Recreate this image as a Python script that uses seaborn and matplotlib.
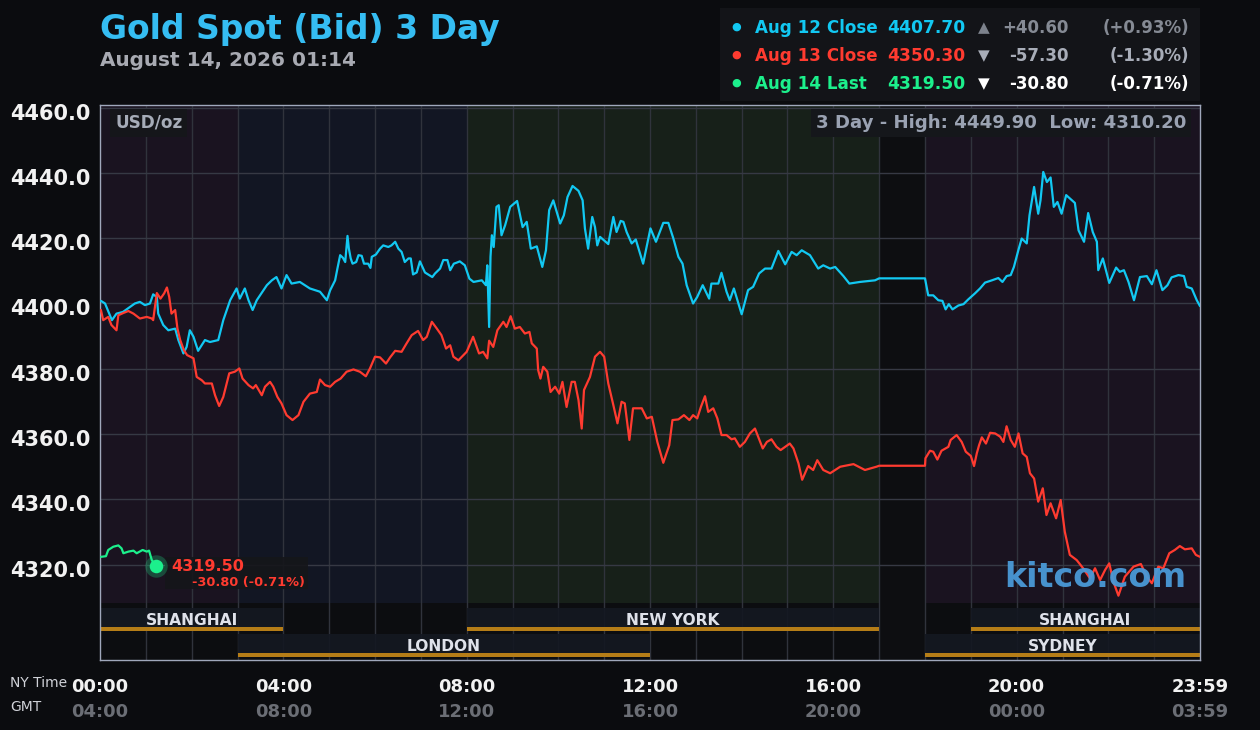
import numpy as np
import pandas as pd
import matplotlib
matplotlib.use("Agg")
import matplotlib.pyplot as plt
from matplotlib.patches import Rectangle
from matplotlib.transforms import ScaledTranslation
import seaborn as sns

# ---------------- data (hours NY time, price USD/oz) ----------------
aug12_hours = [0.02, 0.11, 0.26, 0.36, 0.50, 0.76, 0.87, 0.98, 1.09, 1.16, 1.24, 1.27, 1.38, 1.49, 1.64,
               1.71, 1.82, 1.89, 1.96, 2.04, 2.14, 2.29, 2.40, 2.58, 2.69, 2.84, 2.98, 3.05, 3.16, 3.24,
               3.33, 3.42, 3.64, 3.75, 3.85, 3.96, 4.07, 4.18, 4.36, 4.58, 4.80, 4.95, 5.02, 5.13, 5.18,
               5.24, 5.30, 5.35, 5.40, 5.43, 5.47, 5.51, 5.59, 5.64, 5.71, 5.76, 5.85, 5.90, 5.93, 6.02,
               6.11, 6.18, 6.29, 6.36, 6.44, 6.51, 6.58, 6.65, 6.73, 6.78, 6.83, 6.91, 6.98, 7.09, 7.16,
               7.25, 7.31, 7.42, 7.49, 7.58, 7.64, 7.72, 7.78, 7.85, 7.96, 8.06, 8.15, 8.33, 8.42, 8.45,
               8.49, 8.52, 8.55, 8.59, 8.65, 8.70, 8.76, 8.84, 8.95, 9.10, 9.22, 9.31, 9.40, 9.53, 9.65,
               9.73, 9.80, 9.89, 10.04, 10.12, 10.20, 10.31, 10.44, 10.53, 10.58, 10.65, 10.74, 10.80,
               10.85, 10.91, 11.09, 11.20, 11.27, 11.36, 11.42, 11.49, 11.60, 11.69, 11.85, 12.01, 12.13,
               12.29, 12.40, 12.51, 12.62, 12.71, 12.80, 12.94, 13.03, 13.15, 13.29, 13.34, 13.49, 13.56,
               13.67, 13.74, 13.83, 14.00, 14.14, 14.25, 14.38, 14.51, 14.65, 14.80, 14.95, 15.09, 15.20,
               15.31, 15.49, 15.67, 15.78, 15.93, 16.04, 16.22, 16.35, 16.58, 16.91, 17.00, 18.00, 18.07,
               18.18, 18.29, 18.38, 18.45, 18.52, 18.60, 18.73, 18.84, 18.94, 19.09, 19.20, 19.31, 19.46,
               19.60, 19.69, 19.78, 19.87, 19.94, 20.04, 20.11, 20.22, 20.28, 20.38, 20.47, 20.52, 20.58,
               20.66, 20.74, 20.81, 20.89, 20.98, 21.08, 21.16, 21.27, 21.35, 21.47, 21.56, 21.66, 21.75,
               21.78, 21.88, 22.02, 22.17, 22.25, 22.34, 22.44, 22.56, 22.69, 22.84, 22.95, 23.05, 23.18,
               23.29, 23.38, 23.53, 23.65, 23.71, 23.82, 23.93, 24.00]
aug12_price = [4400.8, 4400.0, 4394.9, 4396.9, 4397.4, 4400.0, 4400.5, 4399.5, 4400.0, 4402.8, 4402.0,
               4396.9, 4393.4, 4391.8, 4392.3, 4388.8, 4384.7, 4386.7, 4391.8, 4389.8, 4385.5, 4388.8,
               4388.2, 4388.8, 4394.9, 4401.0, 4404.6, 4401.5, 4404.6, 4401.0, 4398.0, 4401.0, 4405.6,
               4407.1, 4408.1, 4404.6, 4408.7, 4406.1, 4406.6, 4404.6, 4403.6, 4401.0, 4404.0, 4407.1,
               4410.7, 4414.8, 4414.0, 4412.7, 4420.7, 4416.8, 4413.8, 4412.2, 4412.7, 4414.8, 4414.6,
               4412.2, 4412.2, 4410.9, 4414.3, 4415.0, 4416.8, 4417.8, 4417.3, 4417.8, 4418.9, 4416.8,
               4415.8, 4412.7, 4413.8, 4413.8, 4408.9, 4409.5, 4412.9, 4409.5, 4408.9, 4408.1, 4409.2,
               4410.7, 4413.3, 4413.3, 4410.2, 4412.2, 4412.5, 4412.9, 4411.7, 4407.6, 4406.6, 4407.1,
               4405.6, 4411.7, 4392.8, 4414.3, 4420.9, 4417.3, 4429.6, 4430.1, 4420.9, 4424.0, 4429.6,
               4431.4, 4423.4, 4425.0, 4416.8, 4417.5, 4411.2, 4416.3, 4428.6, 4431.6, 4424.5, 4427.0,
               4432.6, 4436.0, 4434.5, 4431.6, 4423.0, 4416.8, 4426.5, 4423.4, 4417.8, 4420.4, 4418.2,
               4426.5, 4421.9, 4425.3, 4425.0, 4421.9, 4418.4, 4419.6, 4412.2, 4423.0, 4418.9, 4424.7,
               4424.7, 4419.9, 4414.3, 4412.2, 4405.6, 4400.0, 4402.0, 4405.6, 4401.5, 4406.1, 4406.1,
               4409.4, 4403.6, 4401.0, 4404.6, 4396.7, 4404.1, 4405.1, 4409.2, 4410.7, 4410.7, 4416.1,
               4412.0, 4415.8, 4414.8, 4416.3, 4414.8, 4410.7, 4411.7, 4410.7, 4411.2, 4408.4, 4406.1,
               4406.6, 4407.1, 4407.7, 4407.7, 4402.5, 4402.5, 4401.0, 4400.8, 4398.2, 4399.8, 4398.2,
               4399.4, 4399.8, 4401.2, 4403.1, 4404.6, 4406.4, 4407.1, 4407.8, 4406.6, 4408.4, 4408.7,
               4411.2, 4416.5, 4419.9, 4418.4, 4427.0, 4435.7, 4427.5, 4431.6, 4440.3, 4437.2, 4438.6,
               4429.6, 4431.1, 4427.5, 4433.2, 4432.2, 4430.8, 4422.4, 4418.9, 4427.7, 4421.9, 4418.9,
               4410.2, 4413.8, 4406.3, 4411.0, 4409.7, 4410.2, 4406.6, 4401.0, 4408.1, 4408.4, 4405.9,
               4410.2, 4404.1, 4405.6, 4408.0, 4408.7, 4408.4, 4405.1, 4404.6, 4401.0, 4399.2]

aug13_hours = [0.02, 0.07, 0.18, 0.25, 0.36, 0.40, 0.51, 0.62, 0.73, 0.87, 1.02, 1.13, 1.16, 1.24, 1.32,
               1.40, 1.46, 1.51, 1.56, 1.64, 1.69, 1.75, 1.83, 1.90, 2.04, 2.11, 2.22, 2.29, 2.44, 2.51,
               2.60, 2.69, 2.82, 2.94, 3.04, 3.11, 3.24, 3.34, 3.40, 3.53, 3.60, 3.71, 3.78, 3.87, 3.96,
               4.07, 4.20, 4.33, 4.44, 4.58, 4.73, 4.80, 4.91, 5.02, 5.13, 5.25, 5.38, 5.53, 5.67, 5.80,
               5.89, 6.00, 6.11, 6.24, 6.33, 6.44, 6.58, 6.69, 6.80, 6.94, 7.05, 7.13, 7.24, 7.35, 7.45,
               7.55, 7.64, 7.71, 7.82, 7.93, 8.00, 8.14, 8.27, 8.36, 8.45, 8.49, 8.58, 8.67, 8.80, 8.87,
               8.96, 9.05, 9.16, 9.27, 9.37, 9.42, 9.53, 9.56, 9.61, 9.67, 9.76, 9.83, 9.93, 10.02, 10.09,
               10.18, 10.29, 10.36, 10.44, 10.51, 10.56, 10.69, 10.80, 10.91, 11.00, 11.09, 11.20, 11.29,
               11.38, 11.45, 11.55, 11.63, 11.82, 11.93, 12.04, 12.16, 12.29, 12.42, 12.49, 12.62, 12.74,
               12.86, 12.94, 13.03, 13.11, 13.20, 13.27, 13.38, 13.47, 13.56, 13.67, 13.78, 13.85, 13.96,
               14.07, 14.18, 14.29, 14.36, 14.46, 14.55, 14.65, 14.76, 14.85, 14.95, 15.05, 15.13, 15.24,
               15.32, 15.45, 15.56, 15.65, 15.78, 15.93, 16.15, 16.44, 16.69, 16.94, 17.00, 18.00, 18.01,
               18.11, 18.18, 18.27, 18.36, 18.51, 18.56, 18.69, 18.80, 18.89, 19.00, 19.07, 19.13, 19.18,
               19.24, 19.33, 19.42, 19.53, 19.64, 19.71, 19.78, 19.87, 19.96, 20.04, 20.13, 20.22, 20.29,
               20.38, 20.47, 20.57, 20.65, 20.74, 20.86, 20.96, 21.05, 21.16, 21.31, 21.45, 21.60, 21.71,
               21.82, 21.93, 22.02, 22.11, 22.22, 22.36, 22.55, 22.71, 22.84, 22.95, 23.09, 23.20, 23.33,
               23.45, 23.56, 23.67, 23.82, 23.91, 24.00]
aug13_price = [4398.0, 4394.9, 4395.9, 4393.4, 4391.8, 4396.4, 4397.1, 4397.7, 4396.9, 4395.4, 4395.9,
               4395.4, 4394.9, 4403.2, 4401.5, 4403.1, 4404.9, 4402.0, 4396.9, 4398.0, 4392.3, 4388.8,
               4385.7, 4384.2, 4383.2, 4377.5, 4376.5, 4375.5, 4375.5, 4371.9, 4368.6, 4371.4, 4378.6,
               4379.1, 4380.1, 4377.0, 4375.0, 4374.0, 4375.0, 4371.9, 4374.5, 4376.0, 4374.5, 4371.4,
               4369.4, 4365.8, 4364.3, 4365.8, 4369.9, 4372.4, 4372.9, 4376.7, 4375.0, 4374.5, 4376.0,
               4377.0, 4379.1, 4379.8, 4379.1, 4377.7, 4380.1, 4383.7, 4383.5, 4381.6, 4383.5, 4385.5,
               4385.2, 4387.8, 4390.3, 4391.6, 4388.8, 4389.8, 4394.4, 4392.3, 4390.3, 4386.2, 4387.2,
               4383.7, 4382.6, 4384.2, 4385.2, 4389.8, 4384.7, 4385.2, 4383.2, 4388.6, 4386.7, 4391.8,
               4394.4, 4392.8, 4396.1, 4392.3, 4392.8, 4390.8, 4391.3, 4387.8, 4386.2, 4379.6, 4377.0,
               4380.6, 4379.1, 4372.9, 4374.5, 4372.4, 4376.0, 4368.3, 4376.0, 4376.0, 4370.4, 4361.7,
               4373.5, 4377.5, 4383.7, 4385.2, 4383.7, 4375.5, 4368.9, 4363.3, 4369.9, 4369.4, 4358.2,
               4367.9, 4367.9, 4364.8, 4365.3, 4357.6, 4351.2, 4356.6, 4364.3, 4364.5, 4365.8, 4364.3,
               4365.8, 4364.8, 4368.3, 4371.6, 4366.8, 4367.9, 4364.8, 4359.7, 4359.7, 4358.4, 4358.7,
               4356.1, 4357.6, 4360.2, 4361.7, 4359.2, 4355.6, 4357.6, 4358.4, 4356.1, 4355.1, 4356.1,
               4357.1, 4355.6, 4351.0, 4346.0, 4350.2, 4349.0, 4352.0, 4349.0, 4348.0, 4350.0, 4350.8,
               4349.0, 4350.0, 4350.3, 4350.3, 4352.6, 4354.9, 4354.6, 4352.2, 4354.9, 4356.1, 4358.2,
               4359.7, 4357.6, 4354.6, 4353.3, 4350.2, 4354.1, 4356.6, 4359.0, 4357.1, 4360.4, 4360.2,
               4359.2, 4357.6, 4362.4, 4358.2, 4356.1, 4360.2, 4354.1, 4353.0, 4348.0, 4346.4, 4339.3,
               4343.4, 4335.2, 4338.8, 4334.2, 4339.8, 4330.1, 4323.0, 4321.4, 4318.9, 4315.8, 4318.9,
               4315.3, 4318.4, 4320.4, 4314.8, 4310.5, 4316.3, 4319.4, 4320.2, 4316.3, 4314.3, 4319.4,
               4318.9, 4323.5, 4324.5, 4325.7, 4324.7, 4325.0, 4323.0, 4322.4]

aug14_hours = [0.02, 0.13, 0.18, 0.29, 0.40, 0.47, 0.51, 0.62, 0.73, 0.80, 0.93, 1.02, 1.07, 1.13, 1.23]
aug14_price = [4322.4, 4322.6, 4324.5, 4325.5, 4325.9, 4325.0, 4323.5, 4324.0, 4324.3, 4323.5, 4324.5,
               4324.0, 4324.3, 4321.4, 4319.5]

series_names = ["Aug 12", "Aug 13", "Aug 14"]
series_colors = ["#12c8f2", "#ff3b30", "#1cf08c"]
legend_labels = ["Aug 12 Close", "Aug 13 Close", "Aug 14 Last"]
legend_values = ["4407.70", "4350.30", "4319.50"]
legend_arrows = ["\u25B2", "\u25BC", "\u25BC"]
legend_changes = ["+40.60", "-57.30", "-30.80"]
legend_pcts = ["(+0.93%)", "(-1.30%)", "(-0.71%)"]

y_ticks = [4320, 4340, 4360, 4380, 4400, 4420, 4440, 4460]
x_tick_hours = [0, 4, 8, 12, 16, 20, 24]
ny_labels = ["00:00", "04:00", "08:00", "12:00", "16:00", "20:00", "23:59"]
gmt_labels = ["04:00", "08:00", "12:00", "16:00", "20:00", "00:00", "03:59"]

# background periods (start, end, colour)
periods = [(0, 3, "#1a1320"), (3, 8, "#121623"), (8, 17, "#172019"), (17, 18, "#0d0e11"), (18, 24, "#1a1320")]
# market sessions (name, start, end, row)
sessions = [("SHANGHAI", 0, 4, 0), ("LONDON", 3, 12, 1), ("NEW YORK", 8, 17, 0),
            ("SYDNEY", 18, 24, 1), ("SHANGHAI", 19, 24, 0)]

last_hour, last_price = 1.23, 4319.50

# ---------------- figure ----------------
sns.set_theme(style="dark")
plt.rcParams["font.family"] = ["DejaVu Sans"]
BG = "#0b0c0f"
fig = plt.figure(figsize=(12.6, 7.3), dpi=100, facecolor=BG)

def fpos(x, y):
    return x / 1260, 1 - y / 730

ax = fig.add_axes([100 / 1260, 70 / 730, 1100 / 1260, 555 / 730])
ax.set_facecolor("#0c0d10")
Y0, Y1 = 4290.8, 4460.8
SHADE_BOTTOM = 4308.2
ax.set_xlim(0, 24)
ax.set_ylim(Y0, Y1)
frac = (SHADE_BOTTOM - Y0) / (Y1 - Y0)

for s, e, c in periods:
    ax.axvspan(s, e, ymin=frac if c != "#0d0e11" else 0, ymax=1, color=c, zorder=0.2, lw=0)

# grid
for h in range(1, 24):
    ax.axvline(h, color="#30333c", lw=1, zorder=0.6)
for v in y_ticks:
    ax.axhline(v, color="#363944", lw=1, zorder=0.6)

# session bars
row_y = [(4299.7, 4306.7), (4291.8, 4298.8)]
for name, s, e, r in sessions:
    y_lo, y_hi = row_y[r]
    ax.add_patch(Rectangle((s, y_lo), e - s, y_hi - y_lo, facecolor="#141821", edgecolor="none",
                           alpha=0.92, zorder=1.0))
    ax.add_patch(Rectangle((s, y_lo), e - s, 1.15, facecolor="#b57d17", edgecolor="none", zorder=1.2))
    ax.text((s + e) / 2, y_lo + 0.75, name, ha="center", va="bottom", color="#dfe2ea",
            fontsize=11.2, fontweight="bold", zorder=1.1)

# lines
frames = []
for name, hrs, prc in zip(series_names, [aug12_hours, aug13_hours, aug14_hours],
                          [aug12_price, aug13_price, aug14_price]):
    frames.append(pd.DataFrame({"hour": hrs, "price": prc, "day": name}))
df = pd.concat(frames, ignore_index=True)
sns.lineplot(data=df, x="hour", y="price", hue="day", palette=dict(zip(series_names, series_colors)),
             estimator=None, sort=False, lw=1.6, legend=False, ax=ax, zorder=3)

# last price marker
ax.add_patch(Rectangle((1.42, 4312.5), 3.12, 9.8, facecolor="#15161a", edgecolor="none", alpha=0.9, zorder=2.5))
ax.scatter([last_hour], [last_price], s=260, color="#1cf08c", alpha=0.25, zorder=4, lw=0)
ax.scatter([last_hour], [last_price], s=95, color="#1cf08c", zorder=5, lw=0)
ax.text(1.55, last_price, "4319.50", color="#ff3b30", fontsize=11.5, fontweight="bold",
        va="center", ha="left", zorder=5)
ax.text(2.0, 4314.5, "-30.80 (-0.71%)", color="#ff3b30", fontsize=9.3, fontweight="bold",
        va="center", ha="left", zorder=5)

# in-plot labels
ax.text(0.33, 4455.3, "USD/oz", color="#a6acb8", fontsize=12.2, fontweight="bold", va="center", ha="left",
        zorder=5, bbox=dict(boxstyle="square,pad=0.3", fc="#15161a", ec="none"))
ax.text(23.7, 4455.3, "3 Day - High: 4449.90  Low: 4310.20", color="#9aa2b2", fontsize=13.1,
        fontweight="bold", va="center", ha="right", zorder=5,
        bbox=dict(boxstyle="square,pad=0.25", fc="#15171b", ec="none"))
ax.text(23.7, 4316, "kitco.com", color="#4a9ad8", fontsize=24, fontweight="bold", va="center",
        ha="right", zorder=6, alpha=0.95)

# axes styling
ax.set_xticks([])
ax.set_yticks(y_ticks)
ax.set_yticklabels([f"{v:.1f}" for v in y_ticks], fontsize=15, fontweight="bold", color="#f2f2f2")
ax.tick_params(axis="y", length=0, pad=7)
offset = ScaledTranslation(0, -4 / 100, fig.dpi_scale_trans)
for lab in ax.get_yticklabels():
    lab.set_transform(lab.get_transform() + offset)
ax.set_xlabel("")
ax.set_ylabel("")
ax.grid(False)
for sp in ax.spines.values():
    sp.set_color("#a0a8bc")
    sp.set_linewidth(1)
    sp.set_visible(True)

# x tick labels (two rows)
trans = ax.get_xaxis_transform()
for h, a, b in zip(x_tick_hours, ny_labels, gmt_labels):
    ax.text(h, -0.049, a, transform=trans, ha="center", va="center", fontsize=13, fontweight="bold",
            color="#f2f2f2", clip_on=False)
    ax.text(h, -0.093, b, transform=trans, ha="center", va="center", fontsize=13, fontweight="bold",
            color="#6b6e75", clip_on=False)
fig.text(*fpos(10, 683), "NY Time", fontsize=10, color="#d0d2d8", va="center", ha="left")
fig.text(*fpos(10, 707), "GMT", fontsize=10, color="#d0d2d8", va="center", ha="left")

# title
fig.text(*fpos(100, 30), "Gold Spot (Bid) 3 Day", fontsize=23.8, fontweight="bold", color="#35bdf2",
         va="center", ha="left")
fig.text(*fpos(100, 60), "August 14, 2026 01:14", fontsize=14.4, fontweight="bold", color="#a8aab2",
         va="center", ha="left")

# legend box
fig.patches.append(Rectangle(fpos(720, 101), 480 / 1260, 93 / 730, transform=fig.transFigure,
                             facecolor="#131418", edgecolor="none", zorder=0))
change_colors = ["#858a94", "#a8adb8", "#ffffff"]
arrow_colors = ["#7d828c", "#a8adb8", "#ffffff"]
for i in range(3):
    y = 28 + i * 28
    fig.text(*fpos(736, y - 1), "\u25CF", fontsize=8, color=series_colors[i], va="center", ha="center")
    fig.text(*fpos(755, y), legend_labels[i], fontsize=12.1, fontweight="bold", color=series_colors[i],
             va="center", ha="left")
    fig.text(*fpos(887, y), legend_values[i], fontsize=12.3, fontweight="bold", color=series_colors[i],
             va="center", ha="left")
    fig.text(*fpos(984, y), legend_arrows[i], fontsize=11, color=arrow_colors[i], va="center", ha="center")
    fig.text(*fpos(1069, y), legend_changes[i], fontsize=12, fontweight="bold", color=change_colors[i],
             va="center", ha="right")
    fig.text(*fpos(1189, y), legend_pcts[i], fontsize=12, fontweight="bold", color=change_colors[i],
             va="center", ha="right")

fig.savefig("out.png", dpi=100, facecolor=BG)
